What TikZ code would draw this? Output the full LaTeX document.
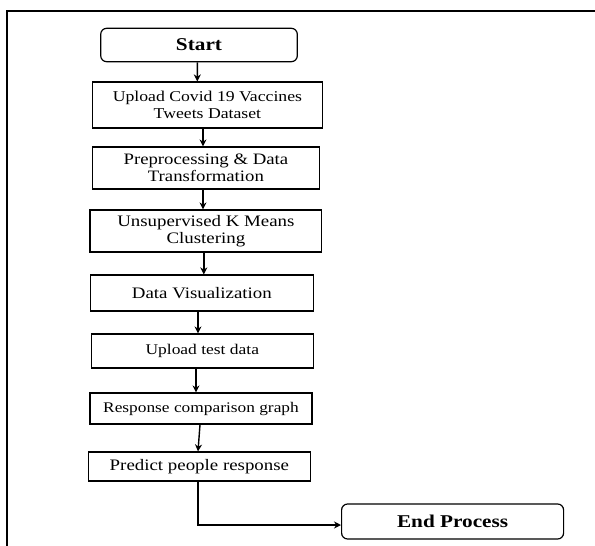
\documentclass[tikz,border=0pt]{standalone}
\usepackage{fontspec}
\setmainfont{Liberation Serif}[FakeStretch=1.18]
\usetikzlibrary{arrows.meta}
\begin{document}
\begin{tikzpicture}[x=1pt,y=-1pt,
  procbox/.style={draw,line width=1.2pt,inner sep=0pt,align=center,font=\fontsize{#1}{17}\selectfont},
  procbox/.default=15.5,
  termbox/.style={draw,line width=1.2pt,rounded corners=6pt,inner sep=0pt,align=center,font=\fontsize{18}{20}\selectfont\bfseries},
  arr/.style={line width=1.4pt,-{Stealth[length=7pt,width=7pt]}}]
\useasboundingbox (0,0) rectangle (595,546);
\draw[line width=2pt] (7,546) -- (7,11) -- (595,11);
\node[termbox,minimum width=196.6pt,minimum height=33.4pt] (st) at (199,45) {Start};
\node[procbox=15.0,minimum width=230.4pt,minimum height=46pt] (b1) at (207.4,105) {Upload Covid 19 Vaccines\\Tweets Dataset};
\node[procbox=15.9,minimum width=227.3pt,minimum height=42pt] (b2) at (205.9,168) {Preprocessing \& Data\\Transformation};
\node[procbox=16.0,minimum width=231.8pt,minimum height=42pt] (b3) at (205.9,231) {Unsupervised K Means\\Clustering};
\node[procbox=16.0,minimum width=222.4pt,minimum height=36pt] (b4) at (201.9,293) {Data Visualization};
\node[procbox=14.8,minimum width=221.6pt,minimum height=34pt] (b5) at (202.3,351) {Upload test data};
\node[procbox=14.7,minimum width=222pt,minimum height=31pt] (b6) at (201,408.5) {Response comparison graph};
\node[procbox=16.0,minimum width=222pt,minimum height=29pt] (b7) at (199.4,466.5) {Predict people response};
\node[termbox,minimum width=222pt,minimum height=35pt] (en) at (452.6,521.5) {End Process};
\draw[arr] ([xshift=-1.7pt]st.south) -- ([xshift=-10.1pt]b1.north);
\draw[arr] ([xshift=-4.4pt]b1.south) -- ([xshift=-2.9pt]b2.north);
\draw[arr] ([xshift=-2.9pt]b2.south) -- ([xshift=-2.9pt]b3.north);
\draw[arr] ([xshift=-2.1pt]b3.south) -- ([xshift=1.9pt]b4.north);
\draw[arr] ([xshift=-3.9pt]b4.south) -- ([xshift=-4.3pt]b5.north);
\draw[arr] ([xshift=-6.3pt]b5.south) -- ([xshift=-5pt]b6.north);
\draw[arr] ([xshift=-1pt]b6.south) -- ([xshift=-1.4pt]b7.north);
\draw[arr] ([xshift=-1.4pt]b7.south) |- ([yshift=-3.5pt]en.west);
\end{tikzpicture}
\end{document}
